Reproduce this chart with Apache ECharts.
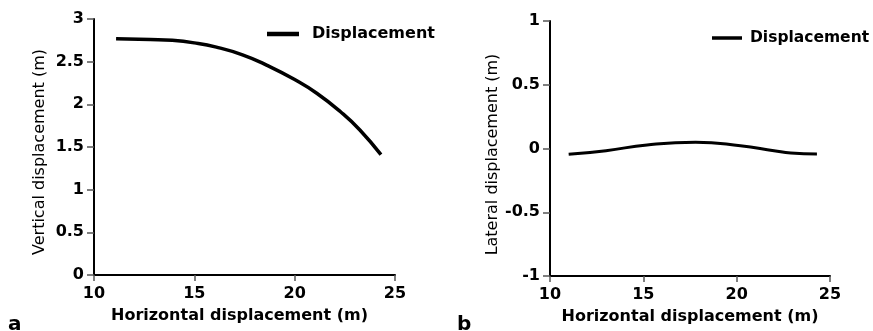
<!DOCTYPE html>
<html>
<head>
<meta charset="utf-8">
<script src="https://cdn.jsdelivr.net/npm/echarts@6/dist/echarts.min.js"></script>
<style>
  html, body { margin: 0; padding: 0; background: #fff; }
  #chart { width: 873px; height: 331px; }
</style>
</head>
<body>
<div id="chart"></div>
<script>
// panel a: horizontal vs vertical displacement
var vertData = [
    [11.1, 2.77], [12.8, 2.76], [13.9, 2.75], [15.0, 2.72], [16.1, 2.67],
    [17.4, 2.58], [18.6, 2.46], [20.0, 2.29], [21.1, 2.13], [22.3, 1.91],
    [23.25, 1.70], [24.3, 1.41]
];
// panel b: horizontal vs lateral displacement
var latData = [
    [11.0, -0.046], [13.0, -0.017], [15.2, 0.028], [17.8, 0.049], [20.2, 0.022],
    [22.0, -0.017], [22.9, -0.036], [24.3, -0.043]
];
var seriesName = 'Displacement';
var xName = 'Horizontal displacement (m)';
var yNames = ['Vertical displacement (m)', 'Lateral displacement (m)'];

var font = 'DejaVu Sans, Liberation Sans, Arial, sans-serif';

function xAxisOf(idx, shift) {
    return {
        type: 'value',
        gridIndex: idx,
        min: 10,
        max: 25,
        interval: 5,
        name: xName,
        nameLocation: 'middle',
        nameGap: 33,
        nameTextStyle: {
            color: '#000', fontWeight: 'bold', fontSize: 16, fontFamily: font,
            padding: [0, shift, 0, 0]
        },
        splitLine: { show: false },
        axisLine: { show: true, onZero: false, lineStyle: { color: '#000', width: 2 } },
        axisTick: { show: true, length: 6, lineStyle: { color: '#555', width: 1.5 } },
        axisLabel: { color: '#000', fontWeight: 'bold', fontSize: 16, fontFamily: font, margin: 11 }
    };
}

function yAxisOf(idx, min, max, interval, gap, shift) {
    return {
        type: 'value',
        gridIndex: idx,
        min: min,
        max: max,
        interval: interval,
        name: yNames[idx],
        nameLocation: 'middle',
        nameGap: gap,
        nameTextStyle: { color: '#000', fontSize: 16, fontFamily: font, padding: [0, shift, 0, 0] },
        splitLine: { show: false },
        axisLine: { show: true, onZero: false, lineStyle: { color: '#000', width: 2 } },
        axisTick: { show: true, length: 7, lineStyle: { color: '#555', width: 1.5 } },
        axisLabel: { color: '#000', fontWeight: 'bold', fontSize: 16, fontFamily: font, margin: 10 }
    };
}

function legendText(pad, size) {
    return { color: '#000', fontWeight: 'bold', fontSize: size, fontFamily: font, padding: [0, 0, 0, pad] };
}

var myChart = echarts.init(document.getElementById('chart'));

var option = {
    animation: false,
    backgroundColor: '#fff',
    grid: [
        { left: 94, top: 19, width: 301, height: 256 },
        { left: 550, top: 21, width: 280, height: 255 }
    ],
    legend: [
        {
            data: [seriesName], left: 262, top: 21, icon: 'rect',
            itemWidth: 32, itemHeight: 4.5, textStyle: legendText(8, 16)
        },
        {
            data: [seriesName], left: 707, top: 25, icon: 'rect',
            itemWidth: 30, itemHeight: 3.5, textStyle: legendText(3, 15.5)
        }
    ],
    xAxis: [xAxisOf(0, 10), xAxisOf(1, 0)],
    yAxis: [yAxisOf(0, 0, 3, 0.5, 46, 10), yAxisOf(1, -1, 1, 0.5, 47, 12)],
    series: [
        {
            name: seriesName, type: 'line', xAxisIndex: 0, yAxisIndex: 0,
            data: vertData, smooth: true, showSymbol: false,
            lineStyle: { color: '#000', width: 3.5 }, itemStyle: { color: '#000' }
        },
        {
            name: seriesName, type: 'line', xAxisIndex: 1, yAxisIndex: 1,
            data: latData, smooth: true, showSymbol: false,
            lineStyle: { color: '#000', width: 3 }, itemStyle: { color: '#000' }
        }
    ],
    graphic: [
        { type: 'text', left: 8, top: 315, style: { text: 'a', fill: '#000', font: 'bold 20px ' + font } },
        { type: 'text', left: 457, top: 315, style: { text: 'b', fill: '#000', font: 'bold 20px ' + font } }
    ]
};

myChart.setOption(option);
</script>
</body>
</html>
